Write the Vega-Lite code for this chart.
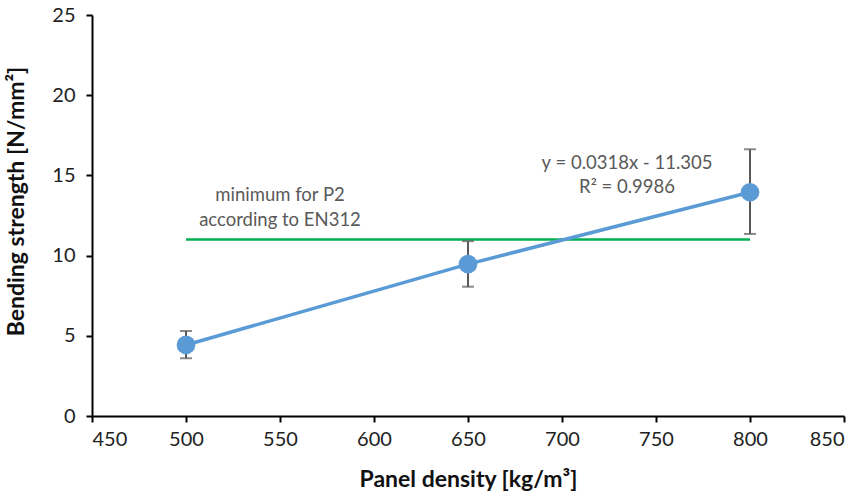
{
  "$schema": "https://vega.github.io/schema/vega-lite/v6.json",
  "width": 752,
  "height": 401,
  "autosize": {"type": "none"},
  "padding": {"left": 92, "top": 15, "right": 17, "bottom": 83},
  "background": "white",
  "config": {
    "view": {"stroke": null},
    "font": "Lato",
    "axis": {
      "grid": false,
      "domainColor": "#000000",
      "domainWidth": 2,
      "tickColor": "#000000",
      "tickWidth": 2,
      "tickSize": 6,
      "labelFont": "Lato",
      "labelFontSize": 20,
      "labelColor": "#222222",
      "titleFont": "Lato",
      "titleFontSize": 23,
      "titleFontWeight": "bold",
      "titleColor": "#111111"
    }
  },
  "datasets": {
    "pts": [
      {"density": 500, "strength": 4.43, "lo": 3.6, "hi": 5.3},
      {"density": 650, "strength": 9.47, "lo": 8.06, "hi": 10.9},
      {"density": 800, "strength": 13.95, "lo": 11.35, "hi": 16.63}
    ],
    "minline": [
      {"density": 500, "strength": 11},
      {"density": 800, "strength": 11}
    ],
    "labels": [
      {"density": 550, "strength": 13.78, "text": "minimum for P2"},
      {"density": 550, "strength": 12.22, "text": "according to EN312"},
      {"density": 734.6, "strength": 15.77, "text": "y = 0.0318x - 11.305"},
      {"density": 734.6, "strength": 14.28, "text": "R² = 0.9986"}
    ]
  },
  "encoding": {
    "x": {
      "field": "density",
      "type": "quantitative",
      "scale": {"domain": [450, 850], "nice": false, "zero": false},
      "axis": {"values": [450, 500, 550, 600, 650, 700, 750, 800, 850], "title": "Panel density [kg/m³]", "labelPadding": 7, "titlePadding": 19}
    },
    "y": {
      "field": "strength",
      "type": "quantitative",
      "scale": {"domain": [0, 25], "nice": false},
      "axis": {"values": [0, 5, 10, 15, 20, 25], "title": "Bending strength [N/mm²]", "labelPadding": 11, "titleX": -76, "titleY": 186, "titleBaseline": "middle", "titleAngle": -90, "titleAlign": "center"}
    }
  },
  "layer": [
    {
      "data": {"name": "minline"},
      "mark": {"type": "line", "color": "#00B050", "strokeWidth": 2.5},
      "encoding": {}
    },
    {
      "data": {"name": "pts"},
      "mark": {"type": "rule", "color": "#595959", "strokeWidth": 2},
      "encoding": {
        "y": {"field": "lo", "type": "quantitative"},
        "y2": {"field": "hi"}
      }
    },
    {
      "data": {"name": "pts"},
      "mark": {"type": "tick", "orient": "horizontal", "color": "#595959", "thickness": 2, "size": 12},
      "encoding": {"y": {"field": "lo", "type": "quantitative"}}
    },
    {
      "data": {"name": "pts"},
      "mark": {"type": "tick", "orient": "horizontal", "color": "#595959", "thickness": 2, "size": 12},
      "encoding": {"y": {"field": "hi", "type": "quantitative"}}
    },
    {
      "data": {"name": "pts"},
      "mark": {"type": "line", "color": "#5B9BD5", "strokeWidth": 3.5},
      "encoding": {}
    },
    {
      "data": {"name": "pts"},
      "mark": {"type": "circle", "color": "#5B9BD5", "opacity": 1, "size": 350},
      "encoding": {}
    },
    {
      "data": {"name": "labels"},
      "mark": {"type": "text", "font": "Lato", "fontSize": 18.5, "color": "#595959", "align": "center", "baseline": "middle"},
      "encoding": {"text": {"field": "text", "type": "nominal"}}
    }
  ]
}
